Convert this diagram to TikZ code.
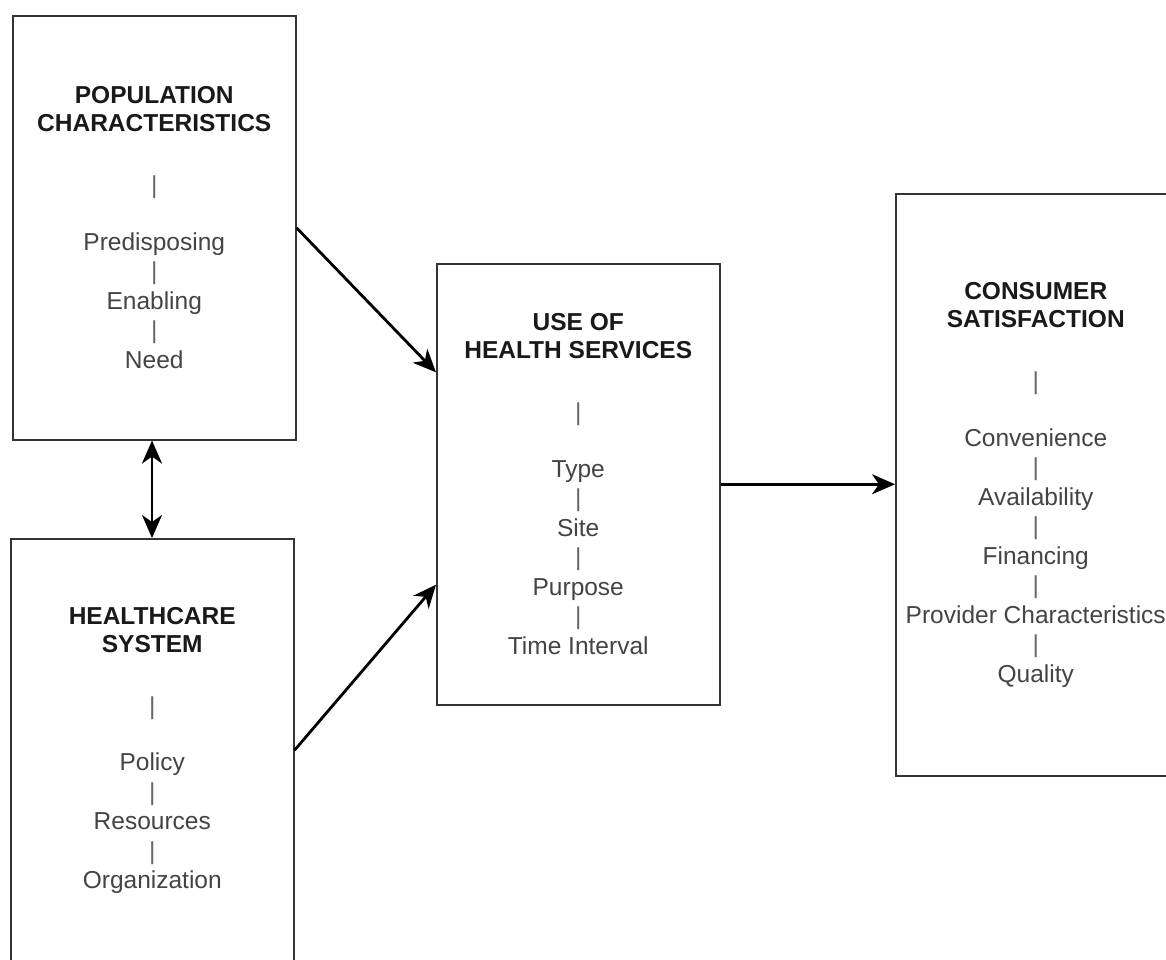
\documentclass[tikz,border=0pt]{standalone}
\usepackage{fontspec}
\setmainfont{Liberation Sans}
\usetikzlibrary{arrows.meta,calc}
\definecolor{boxline}{HTML}{333333}
\definecolor{itemtext}{HTML}{444444}
\definecolor{sepcol}{HTML}{666666}
\begin{document}
\begin{tikzpicture}[x=1pt,y=-1pt,
  panel/.style={draw=boxline, line width=1.5pt, rectangle, inner sep=0pt, anchor=north west,
    align=center, text=itemtext, font=\fontsize{24.5}{29.5}\selectfont},
  tipstyle/.style={},
  conn/.style={line width=2.8pt, draw=black, -{Stealth[length=23pt,width=20pt,inset=7pt]}},
  biconn/.style={line width=2.8pt, draw=black, {Stealth[length=23pt,width=20pt,inset=7pt]}-{Stealth[length=23pt,width=20pt,inset=7pt]}}
]
\useasboundingbox (0,0) rectangle (1166,959);
\fill[white] (0,0) rectangle (1166,959);
\clip (0,0) rectangle (1166,959);
\newcommand{\ttl}[1]{\textcolor{black!90}{\bfseries #1}}
\newcommand{\sep}{\textcolor{sepcol}{|}}

\node[panel, minimum width=283pt, minimum height=424pt] (pop) at (12,15)
  {\ttl{POPULATION}\\[-1.5pt] \ttl{CHARACTERISTICS}\\[32.5pt] \sep\\[27pt]
   Predisposing\\ \sep\\ Enabling\\ \sep\\ Need};

\node[panel, minimum width=283pt, minimum height=423pt] (hc) at (10,538)
  {\ttl{HEALTHCARE}\\[-1.5pt] \ttl{SYSTEM}\\[32.5pt] \sep\\[27pt]
   Policy\\ \sep\\ Resources\\ \sep\\ Organization};

\node[panel, minimum width=283pt, minimum height=441pt] (use) at (436,263)
  {\ttl{USE OF}\\[-1.5pt] \ttl{HEALTH SERVICES}\\[32.5pt] \sep\\[27pt]
   Type\\ \sep\\ Site\\ \sep\\ Purpose\\ \sep\\ Time Interval};

\node[panel, minimum width=280pt, minimum height=582pt] (cs) at (895,193)
  {\ttl{CONSUMER}\\[-1.5pt] \ttl{SATISFACTION}\\[32.5pt] \sep\\[27pt]
   Convenience\\ \sep\\ Availability\\ \sep\\ Financing\\ \sep\\ Provider Characteristics\\ \sep\\ Quality};

\coordinate (useA) at ($(use.north west)!0.247!(use.south west)$);
\coordinate (useB) at ($(use.north west)!0.727!(use.south west)$);

\draw[conn] (pop.east) -- (useA);
\draw[conn] (hc.east) -- (useB);
\draw[conn] (use.east) -- (use.east -| cs.west);
\draw[biconn] (pop.south -| 152,0) -- (hc.north -| 152,0);
\end{tikzpicture}
\end{document}
